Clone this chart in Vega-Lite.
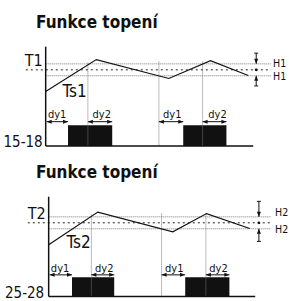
{
  "$schema": "https://vega.github.io/schema/vega-lite/v6.json",
  "width": 289,
  "height": 301,
  "autosize": {"type": "fit", "contains": "padding"},
  "padding": 0,
  "background": "white",
  "config": {"view": {"stroke": null}, "text": {"font": "DejaVu Sans Condensed, Roboto, sans-serif"}},
  "datasets": {
    "rules": [
      {"k": "axis", "x": 46, "y": 47, "x2": 46, "y2": 147},
      {"k": "axis", "x": 46, "y": 147, "x2": 255, "y2": 147},
      {"k": "dotg", "x": 46, "y": 64.3, "x2": 273, "y2": 64.3},
      {"k": "dotg", "x": 46, "y": 76.3, "x2": 273, "y2": 76.3},
      {"k": "dotb", "x": 26, "y": 70.3, "x2": 273, "y2": 70.3},
      {"k": "vdot", "x": 88.5, "y": 63, "x2": 88.5, "y2": 147},
      {"k": "vdot", "x": 160, "y": 62, "x2": 160, "y2": 147},
      {"k": "vdot", "x": 204, "y": 62, "x2": 204, "y2": 147},
      {"k": "arrow", "x": 47, "y": 122.5, "x2": 68.5, "y2": 122.5},
      {"k": "arrow", "x": 88.5, "y": 122.5, "x2": 113, "y2": 122.5},
      {"k": "arrow", "x": 160, "y": 122.5, "x2": 184.5, "y2": 122.5},
      {"k": "arrow", "x": 204, "y": 122.5, "x2": 228, "y2": 122.5},
      {"k": "arrow", "x": 258, "y": 53.5, "x2": 258, "y2": 64.3},
      {"k": "arrow", "x": 258, "y": 76.3, "x2": 258, "y2": 86.5},
      {"k": "arrow", "x": 256, "y": 53.5, "x2": 260, "y2": 53.5},
      {"k": "arrow", "x": 256, "y": 86.5, "x2": 260, "y2": 86.5},
      {"k": "axis", "x": 49, "y": 198, "x2": 49, "y2": 298.5},
      {"k": "axis", "x": 49, "y": 298.5, "x2": 257, "y2": 298.5},
      {"k": "dotg", "x": 49, "y": 218.3, "x2": 273, "y2": 218.3},
      {"k": "dotg", "x": 49, "y": 230.3, "x2": 273, "y2": 230.3},
      {"k": "dotb", "x": 28, "y": 224.3, "x2": 273, "y2": 224.3},
      {"k": "vdot", "x": 92, "y": 216, "x2": 92, "y2": 298.5},
      {"k": "vdot", "x": 162.7, "y": 215, "x2": 162.7, "y2": 298.5},
      {"k": "vdot", "x": 207.3, "y": 215, "x2": 207.3, "y2": 298.5},
      {"k": "arrow", "x": 50, "y": 276.7, "x2": 72.5, "y2": 276.7},
      {"k": "arrow", "x": 92, "y": 276.7, "x2": 115, "y2": 276.7},
      {"k": "arrow", "x": 162.7, "y": 276.7, "x2": 186.3, "y2": 276.7},
      {"k": "arrow", "x": 207.3, "y": 276.7, "x2": 231, "y2": 276.7},
      {"k": "arrow", "x": 260.7, "y": 202.7, "x2": 260.7, "y2": 218.3},
      {"k": "arrow", "x": 260.7, "y": 230.3, "x2": 260.7, "y2": 243},
      {"k": "arrow", "x": 258.7, "y": 202.7, "x2": 262.7, "y2": 202.7},
      {"k": "arrow", "x": 258.7, "y": 243, "x2": 262.7, "y2": 243}
    ],
    "curve": [
      {"p": 1, "o": 1, "x": 46, "y": 92},
      {"p": 1, "o": 2, "x": 97, "y": 60},
      {"p": 1, "o": 3, "x": 170, "y": 79},
      {"p": 1, "o": 4, "x": 212, "y": 61},
      {"p": 1, "o": 5, "x": 250, "y": 76},
      {"p": 2, "o": 1, "x": 49, "y": 246.5},
      {"p": 2, "o": 2, "x": 98.5, "y": 213.5},
      {"p": 2, "o": 3, "x": 174, "y": 233.3},
      {"p": 2, "o": 4, "x": 208, "y": 215},
      {"p": 2, "o": 5, "x": 251.5, "y": 230}
    ],
    "blocks": [
      {"x": 68.5, "x2": 113, "y": 126, "y2": 147},
      {"x": 184.5, "x2": 228, "y": 126, "y2": 147},
      {"x": 72.5, "x2": 115, "y": 279, "y2": 298.5},
      {"x": 186.5, "x2": 231, "y": 279, "y2": 298.5}
    ],
    "heads": [
      {"d": "l", "x": 47, "y": 122.5}, {"d": "r", "x": 68.5, "y": 122.5},
      {"d": "l", "x": 88.5, "y": 122.5}, {"d": "r", "x": 113, "y": 122.5},
      {"d": "l", "x": 160, "y": 122.5}, {"d": "r", "x": 184.5, "y": 122.5},
      {"d": "l", "x": 204, "y": 122.5}, {"d": "r", "x": 228, "y": 122.5},
      {"d": "d", "x": 258, "y": 64.3}, {"d": "u", "x": 258, "y": 76.3},
      {"d": "l", "x": 50, "y": 276.7}, {"d": "r", "x": 72.5, "y": 276.7},
      {"d": "l", "x": 92, "y": 276.7}, {"d": "r", "x": 115, "y": 276.7},
      {"d": "l", "x": 162.7, "y": 276.7}, {"d": "r", "x": 186.3, "y": 276.7},
      {"d": "l", "x": 207.3, "y": 276.7}, {"d": "r", "x": 231, "y": 276.7},
      {"d": "d", "x": 260.7, "y": 218.3}, {"d": "u", "x": 260.7, "y": 230.3}
    ],
    "dots": [
      {"x": 258, "y": 70.3},
      {"x": 260.7, "y": 224.3}
    ],
    "titles": [
      {"t": "Funkce topení", "x": 97.5, "y": 28.5},
      {"t": "Funkce topení", "x": 97.5, "y": 179.5}
    ],
    "rlabels": [
      {"t": "T1", "x": 43, "y": 66.5, "s": 16},
      {"t": "15-18", "x": 43, "y": 147.5, "s": 15},
      {"t": "T2", "x": 46, "y": 220.5, "s": 16},
      {"t": "25-28", "x": 44.5, "y": 299.5, "s": 15}
    ],
    "llabels": [
      {"t": "Ts1", "x": 63, "y": 97.5, "s": 17},
      {"t": "Ts2", "x": 67, "y": 250, "s": 17}
    ],
    "hlabels": [
      {"t": "H1", "x": 275, "y": 64},
      {"t": "H1", "x": 275, "y": 77.5},
      {"t": "H2", "x": 277, "y": 214},
      {"t": "H2", "x": 277, "y": 231.5}
    ],
    "dylabels": [
      {"t": "dy1", "x": 57.5, "y": 119},
      {"t": "dy2", "x": 102.5, "y": 119},
      {"t": "dy1", "x": 173.5, "y": 119},
      {"t": "dy2", "x": 219, "y": 119},
      {"t": "dy1", "x": 60.5, "y": 273.5},
      {"t": "dy2", "x": 105, "y": 273.5},
      {"t": "dy1", "x": 175.5, "y": 273.5},
      {"t": "dy2", "x": 220, "y": 273.5}
    ]
  },
  "layer": [
    {
      "data": {"name": "blocks"},
      "mark": {"type": "rect", "color": "#111111"},
      "encoding": {
        "x": {"field": "x", "type": "quantitative", "scale": {"domain": [0, 289], "nice": false, "zero": false}, "axis": null},
        "x2": {"field": "x2"},
        "y": {"field": "y", "type": "quantitative", "scale": {"domain": [0, 301], "nice": false, "zero": false, "reverse": true}, "axis": null},
        "y2": {"field": "y2"}
      }
    },
    {
      "data": {"name": "rules"},
      "transform": [{"filter": "datum.k == 'dotg' || datum.k == 'vdot'"}],
      "mark": {"type": "rule", "color": "#777777", "strokeWidth": 1, "strokeDash": [1, 1]},
      "encoding": {
        "x": {"field": "x", "type": "quantitative"},
        "x2": {"field": "x2"},
        "y": {"field": "y", "type": "quantitative"},
        "y2": {"field": "y2"}
      }
    },
    {
      "data": {"name": "rules"},
      "transform": [{"filter": "datum.k == 'dotb'"}],
      "mark": {"type": "rule", "color": "#222222", "strokeWidth": 1, "strokeDash": [2, 3]},
      "encoding": {
        "x": {"field": "x", "type": "quantitative"},
        "x2": {"field": "x2"},
        "y": {"field": "y", "type": "quantitative"},
        "y2": {"field": "y2"}
      }
    },
    {
      "data": {"name": "rules"},
      "transform": [{"filter": "datum.k == 'arrow'"}],
      "mark": {"type": "rule", "color": "#111111", "strokeWidth": 1},
      "encoding": {
        "x": {"field": "x", "type": "quantitative"},
        "x2": {"field": "x2"},
        "y": {"field": "y", "type": "quantitative"},
        "y2": {"field": "y2"}
      }
    },
    {
      "data": {"name": "rules"},
      "transform": [{"filter": "datum.k == 'axis'"}],
      "mark": {"type": "rule", "color": "#111111", "strokeWidth": 1.5},
      "encoding": {
        "x": {"field": "x", "type": "quantitative"},
        "x2": {"field": "x2"},
        "y": {"field": "y", "type": "quantitative"},
        "y2": {"field": "y2"}
      }
    },
    {
      "data": {"name": "curve"},
      "mark": {"type": "line", "color": "#111111", "strokeWidth": 1.2},
      "encoding": {
        "x": {"field": "x", "type": "quantitative"},
        "y": {"field": "y", "type": "quantitative"},
        "detail": {"field": "p"},
        "order": {"field": "o"}
      }
    },
    {
      "data": {"name": "heads"},
      "mark": {"type": "point", "filled": true, "color": "#111111", "opacity": 1, "size": 100, "strokeWidth": 0},
      "encoding": {
        "x": {"field": "x", "type": "quantitative"},
        "y": {"field": "y", "type": "quantitative"},
        "shape": {"field": "d", "type": "nominal", "legend": null,
          "scale": {"domain": ["l", "r", "u", "d"], "range": ["M0,0L1,-0.4L1,0.4Z", "M0,0L-1,-0.4L-1,0.4Z", "M0,0L-0.4,1L0.4,1Z", "M0,0L-0.4,-1L0.4,-1Z"]}}
      }
    },
    {
      "data": {"name": "dots"},
      "mark": {"type": "circle", "color": "#111111", "opacity": 1, "size": 8},
      "encoding": {
        "x": {"field": "x", "type": "quantitative"},
        "y": {"field": "y", "type": "quantitative"}
      }
    },
    {
      "data": {"name": "titles"},
      "mark": {"type": "text", "fontWeight": "bold", "fontSize": 17, "align": "center", "baseline": "alphabetic", "color": "#111111"},
      "encoding": {
        "x": {"field": "x", "type": "quantitative"},
        "y": {"field": "y", "type": "quantitative"},
        "text": {"field": "t"}
      }
    },
    {
      "data": {"name": "rlabels"},
      "mark": {"type": "text", "align": "right", "baseline": "alphabetic", "color": "#111111"},
      "encoding": {
        "x": {"field": "x", "type": "quantitative"},
        "y": {"field": "y", "type": "quantitative"},
        "text": {"field": "t"},
        "size": {"field": "s", "type": "quantitative", "scale": null}
      }
    },
    {
      "data": {"name": "llabels"},
      "mark": {"type": "text", "align": "left", "baseline": "alphabetic", "color": "#111111"},
      "encoding": {
        "x": {"field": "x", "type": "quantitative"},
        "y": {"field": "y", "type": "quantitative"},
        "text": {"field": "t"},
        "size": {"field": "s", "type": "quantitative", "scale": null}
      }
    },
    {
      "data": {"name": "hlabels"},
      "mark": {"type": "text", "fontSize": 10.5, "align": "left", "baseline": "middle", "color": "#111111"},
      "encoding": {
        "x": {"field": "x", "type": "quantitative"},
        "y": {"field": "y", "type": "quantitative"},
        "text": {"field": "t"}
      }
    },
    {
      "data": {"name": "dylabels"},
      "mark": {"type": "text", "fontSize": 11, "align": "center", "baseline": "alphabetic", "color": "#111111"},
      "encoding": {
        "x": {"field": "x", "type": "quantitative"},
        "y": {"field": "y", "type": "quantitative"},
        "text": {"field": "t"}
      }
    }
  ]
}
